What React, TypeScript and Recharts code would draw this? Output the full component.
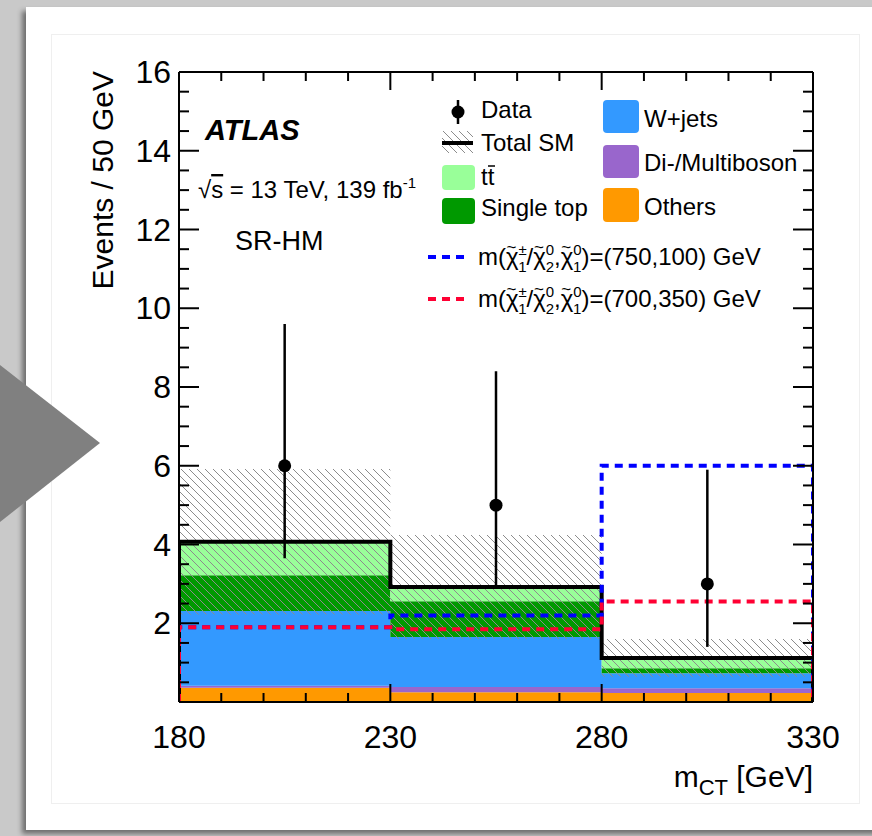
import { ComposedChart, Area, Line, Scatter, ErrorBar, XAxis, YAxis } from "recharts";

// m_CT histogram, SR-HM, four bin edges -> three bins
const binEdges = [180, 230, 280, 330];

// stacked SM backgrounds (events per bin), bottom to top
const others = [0.36, 0.25, 0.23];
const diboson = [0.05, 0.13, 0.12];
const wjets = [1.9, 1.27, 0.38];
const singleTop = [0.91, 0.91, 0.13];
const ttbar = [0.85, 0.36, 0.26];
const totalUnc = [1.85, 1.32, 0.48];

// observed data with asymmetric (Poisson) errors
const dataCounts = [6, 5, 3];
const dataErrLow = [2.35, 2.1, 1.6];
const dataErrHigh = [3.6, 3.4, 2.9];

// signal benchmarks
const sigA = [1.9, 2.2, 6.0]; // (750,100)
const sigB = [1.9, 1.85, 2.55]; // (700,350)

const xTicks = [180, 190, 200, 210, 220, 230, 240, 250, 260, 270, 280, 290, 300, 310, 320, 330];
const xLabels = [180, 230, 280, 330];
const yTicks = [0, 0.5, 1, 1.5, 2, 2.5, 3, 3.5, 4, 4.5, 5, 5.5, 6, 6.5, 7, 7.5, 8, 8.5, 9, 9.5, 10, 10.5, 11, 11.5, 12, 12.5, 13, 13.5, 14, 14.5, 15, 15.5, 16];
const yLabels = [2, 4, 6, 8, 10, 12, 14, 16];

const FONT = "'Liberation Sans', Arial, Helvetica, sans-serif";
const C = {
    others: "#ff9900",
    diboson: "#9966cc",
    wjets: "#3399ff",
    singleTop: "#009900",
    ttbar: "#99ff99",
    sigA: "#0000ff",
    sigB: "#ff0033",
};

const nBins = binEdges.length - 1;
const binOf = (i: number) => Math.min(i, nBins - 1);
const totals = others.map((_, i) => others[i] + diboson[i] + wjets[i] + singleTop[i] + ttbar[i]);

// one row per lower edge + a closing row at the last edge, for stepAfter areas
const stackRows = binEdges.map((x, i) => {
    const b = binOf(i);
    return {
        x,
        others: others[b],
        diboson: diboson[b],
        wjets: wjets[b],
        singleTop: singleTop[b],
        ttbar: ttbar[b],
        band: [Math.max(0, totals[b] - totalUnc[b]), totals[b] + totalUnc[b]],
    };
});

// histogram outline that drops to zero at both outer edges
const histLine = (vals: number[]) => [
    { x: binEdges[0], y: 0 },
    ...binEdges.map((x, i) => ({ x, y: vals[binOf(i)] })),
    { x: binEdges[nBins], y: 0 },
];

const dataPoints = dataCounts.map((n, i) => ({
    x: (binEdges[i] + binEdges[i + 1]) / 2,
    y: n,
    err: [dataErrLow[i], dataErrHigh[i]],
}));

const tickLine = { stroke: "#000", strokeWidth: 2 };

function BottomTick(p: any) {
    const v = p.payload.value;
    const major = xLabels.includes(v);
    return (
        <g>
            <line x1={p.x} x2={p.x} y1={p.y} y2={p.y - (major ? 18 : 9)} {...tickLine} />
            {major && (
                <text x={p.x} y={p.y + 46} textAnchor="middle" fontSize={32} fontFamily={FONT} fill="#000">
                    {v}
                </text>
            )}
        </g>
    );
}

function TopTick(p: any) {
    const major = xLabels.includes(p.payload.value);
    return <line x1={p.x} x2={p.x} y1={p.y} y2={p.y + (major ? 18 : 9)} {...tickLine} />;
}

function LeftTick(p: any) {
    const v = p.payload.value;
    const major = v % 2 === 0;
    return (
        <g>
            <line x1={p.x} x2={p.x + (major ? 20 : 10)} y1={p.y} y2={p.y} {...tickLine} />
            {yLabels.includes(v) && (
                <text x={p.x - 8} y={p.y + 11} textAnchor="end" fontSize={32} fontFamily={FONT} fill="#000">
                    {v}
                </text>
            )}
        </g>
    );
}

function RightTick(p: any) {
    const major = p.payload.value % 2 === 0;
    return <line x1={p.x} x2={p.x - (major ? 20 : 10)} y1={p.y} y2={p.y} {...tickLine} />;
}

const DataDot = (p: any) => <circle cx={p.cx} cy={p.cy} r={6.5} fill="#000" />;

// chi with a tilde on top and stacked super/subscript
function Chi({ sup, sub }: { sup: string; sub: string }) {
    return (
        <>
            <tspan>χ</tspan>
            <tspan dx={-12} dy={-12} fontSize={17}>~</tspan>
            <tspan dx={2} dy={2} fontSize={15}>{sup}</tspan>
            <tspan dx={-8.5} dy={17} fontSize={15}>{sub}</tspan>
            <tspan dy={-7}>{"\u200b"}</tspan>
        </>
    );
}

function SignalText({ x, y, label }: { x: number; y: number; label: string }) {
    return (
        <text x={x} y={y} fontSize={24} fontFamily={FONT} fill="#000">
            m(
            <Chi sup="±" sub="1" />
            /
            <Chi sup="0" sub="2" />
            ,
            <Chi sup="0" sub="1" />
            )={label} GeV
        </text>
    );
}

function Swatch({ x, y, w, h, fill, label, tx, ty }: any) {
    return (
        <g>
            <rect x={x} y={y} width={w} height={h} rx={4} fill={fill} />
            <text x={tx} y={ty} fontSize={24} fontFamily={FONT} fill="#000">{label}</text>
        </g>
    );
}

const hatchPath = "M0,0 L8,8 M-1,7 L1,9 M7,-1 L9,1";

export default function App() {
    return (
        <div style={{ position: "absolute", left: 0, top: 0, width: 872, height: 836, background: "#c9c9c9", overflow: "hidden" }}>
            <div style={{ position: "absolute", left: 26, top: 7, width: 860, height: 823, background: "#fff", boxShadow: "-4px 4px 5px rgba(0,0,0,0.45)" }} />
            <div style={{ position: "absolute", left: 51, top: 34, width: 807, height: 768, border: "1px solid #efefef" }} />
            <div style={{ position: "absolute", left: 0, top: 0 }}>
                <ComposedChart width={872} height={836} data={stackRows} margin={{ top: 71, right: 58, bottom: 133, left: 178 }}>
                    <defs>
                        <pattern id="smHatch" patternUnits="userSpaceOnUse" width={8} height={8}>
                            <path d={hatchPath} stroke="#8c8c8c" strokeWidth={1} />
                        </pattern>
                    </defs>
                    <XAxis dataKey="x" type="number" domain={[binEdges[0], binEdges[nBins]]} allowDataOverflow ticks={xTicks} interval={0}
                        height={1} tickSize={0} tickMargin={0} tickLine={false} tick={BottomTick} axisLine={tickLine} />
                    <XAxis xAxisId="top" orientation="top" dataKey="x" type="number" domain={[binEdges[0], binEdges[nBins]]} allowDataOverflow
                        ticks={xTicks} interval={0} height={1} tickSize={0} tickMargin={0} tickLine={false} tick={TopTick} axisLine={tickLine} />
                    <YAxis type="number" domain={[0, 16]} allowDataOverflow ticks={yTicks} interval={0}
                        width={1} tickSize={0} tickMargin={0} tickLine={false} tick={LeftTick} axisLine={tickLine} />
                    <YAxis yAxisId="right" orientation="right" type="number" domain={[0, 16]} allowDataOverflow ticks={yTicks} interval={0}
                        width={1} tickSize={0} tickMargin={0} tickLine={false} tick={RightTick} axisLine={tickLine} />

                    <Area type="stepAfter" dataKey="others" stackId="sm" fill={C.others} fillOpacity={1} stroke="none" isAnimationActive={false} />
                    <Area type="stepAfter" dataKey="diboson" stackId="sm" fill={C.diboson} fillOpacity={1} stroke="none" isAnimationActive={false} />
                    <Area type="stepAfter" dataKey="wjets" stackId="sm" fill={C.wjets} fillOpacity={1} stroke="none" isAnimationActive={false} />
                    <Area type="stepAfter" dataKey="singleTop" stackId="sm" fill={C.singleTop} fillOpacity={1} stroke="none" isAnimationActive={false} />
                    <Area type="stepAfter" dataKey="ttbar" stackId="sm" fill={C.ttbar} fillOpacity={1} stroke="none" isAnimationActive={false} />
                    <Area type="stepAfter" dataKey="band" fill="url(#smHatch)" fillOpacity={1} stroke="none" isAnimationActive={false} />

                    <Line data={histLine(totals)} type="stepAfter" dataKey="y" stroke="#000" strokeWidth={4} dot={false} isAnimationActive={false} />
                    <Line data={histLine(sigA)} type="stepAfter" dataKey="y" stroke={C.sigA} strokeWidth={4} strokeDasharray="8 6" dot={false} isAnimationActive={false} />
                    <Line data={histLine(sigB)} type="stepAfter" dataKey="y" stroke={C.sigB} strokeWidth={4} strokeDasharray="8 6" dot={false} isAnimationActive={false} />

                    <Scatter data={dataPoints} dataKey="y" shape={DataDot} isAnimationActive={false}>
                        <ErrorBar dataKey="err" direction="y" width={0} stroke="#000" strokeWidth={2.5} isAnimationActive={false} />
                    </Scatter>
                </ComposedChart>
            </div>

            <svg width={872} height={836} style={{ position: "absolute", left: 0, top: 0, pointerEvents: "none" }}>
                <defs>
                    <pattern id="legHatch" patternUnits="userSpaceOnUse" width={8} height={8}>
                        <path d={hatchPath} stroke="#8c8c8c" strokeWidth={1} />
                    </pattern>
                </defs>

                {/* axis titles */}
                <text transform="rotate(-90, 113, 71)" x={113} y={71} textAnchor="end" fontSize={30} fontFamily={FONT} fill="#000">
                    Events / 50 GeV
                </text>
                <text x={813} y={787} textAnchor="end" fontSize={30} fontFamily={FONT} fill="#000">
                    m<tspan fontSize={22} dy={8}>CT</tspan>
                    <tspan dy={-8}> [GeV]</tspan>
                </text>

                {/* ATLAS label */}
                <text x={205} y={140} fontSize={29} fontWeight="bold" fontStyle="italic" fontFamily={FONT} fill="#000">ATLAS</text>
                <text x={198} y={198} fontSize={24} fontFamily={FONT} fill="#000">
                    √<tspan style={{ textDecoration: "overline" }}>s</tspan> = 13 TeV, 139 fb
                    <tspan dy={-10} fontSize={15}>-1</tspan>
                </text>
                <text x={235} y={250} fontSize={27} fontFamily={FONT} fill="#000">SR-HM</text>

                {/* legend, left column */}
                <line x1={458} x2={458} y1={100} y2={124} stroke="#000" strokeWidth={2.5} />
                <circle cx={458} cy={112} r={6.5} fill="#000" />
                <text x={481} y={118} fontSize={24} fontFamily={FONT} fill="#000">Data</text>

                <rect x={442} y={131} width={31} height={22} fill="url(#legHatch)" />
                <line x1={442} x2={473} y1={143} y2={143} stroke="#000" strokeWidth={4} />
                <text x={481} y={151} fontSize={24} fontFamily={FONT} fill="#000">Total SM</text>

                <Swatch x={442} y={165} w={33} h={25} fill={C.ttbar} label="tt" tx={481} ty={185} />
                <line x1={488} x2={495} y1={166} y2={166} stroke="#000" strokeWidth={1.5} />
                <Swatch x={442} y={198} w={33} h={26} fill={C.singleTop} label="Single top" tx={481} ty={216} />

                {/* legend, right column */}
                <Swatch x={603} y={100} w={36} h={33} fill={C.wjets} label="W+jets" tx={644} ty={127} />
                <Swatch x={603} y={145} w={36} h={33} fill={C.diboson} label="Di-/Multiboson" tx={644} ty={171} />
                <Swatch x={603} y={188} w={36} h={34} fill={C.others} label="Others" tx={644} ty={215} />

                {/* signal legend */}
                <line x1={428} x2={466} y1={257} y2={257} stroke={C.sigA} strokeWidth={4} strokeDasharray="8 6" />
                <SignalText x={478} y={265} label="(750,100)" />
                <line x1={428} x2={466} y1={299} y2={299} stroke={C.sigB} strokeWidth={4} strokeDasharray="8 6" />
                <SignalText x={478} y={307} label="(700,350)" />

                <polygon points="0,365 100,443 0,522" fill="#808080" />
            </svg>
        </div>
    );
}
